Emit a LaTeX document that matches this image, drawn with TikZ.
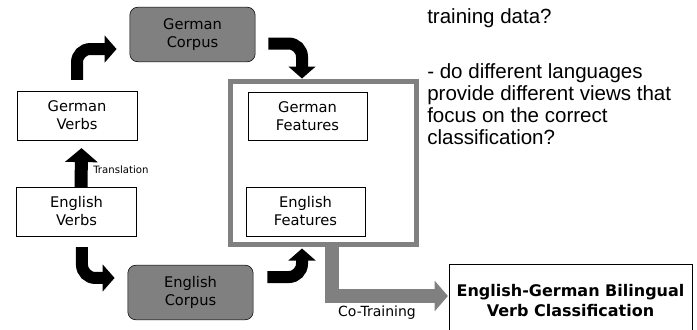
\documentclass[tikz,border=0pt]{standalone}
\usepackage{fontspec}
\setmainfont{Liberation Sans}
\newfontfamily\boxfont{DejaVu Sans}
\usepackage{xcolor}
\definecolor{Mid Gray}{HTML}{808080}
\colorlet{cGray}{Mid Gray}
\usepackage{tikz}
\usetikzlibrary{calc, arrows.meta, positioning}
\tikzset{
	x = .75pt,
	y = -.75pt,
	line width = .75pt,
	font = \boxfont\fontsize{11}{13.5}\selectfont,
	plainbox/.style={
		draw,
		fill=white,
		align=center,
		inner sep=0pt,
		minimum width=90pt,
		minimum height=36.5pt
	},
	corpus/.style={
		plainbox,
		fill=cGray,
		rounded corners=6pt,
		minimum width=94pt,
		minimum height=41pt
	},
	featframe/.style={
		draw=cGray,
		line width=3.75pt,
		inner sep=0pt,
		minimum width=139.5pt,
		minimum height=122.25pt
	},
	turnarrow/.style={
		line width=9pt,
		rounded corners=10pt,
		-{Triangle[width=20pt,length=9pt]}
	},
	uparrow/.style={
		line width=9.75pt,
		-{Triangle[width=24pt,length=10.5pt]}
	},
	cotrain/.style={
		draw=cGray,
		line width=10pt,
		-{Triangle[width=22.5pt,length=10pt]}
	},
	question/.style={
		anchor=base west,
		align=left,
		inner sep=0pt,
		font=\rmfamily\fontsize{15.4}{16.5}\selectfont
	}
}

\begin{document}
\begin{tikzpicture}
		\path[use as bounding box, fill=white] (0,0) rectangle (697,329);
		\clip (0,0) rectangle (697,329);

		\node[featframe] (frame) at (323,162.5) {};

		\node[plainbox] (gverbs) at (77,115.5) {German\\Verbs};
		\node[plainbox] (everbs) at (76.5,211.5) {English\\Verbs};
		\node[corpus] (gcorpus) at (192.5,34.5) {German\\Corpus};
		\node[corpus] (ecorpus) at (190.5,292.5) {English\\Corpus};
		\node[plainbox, minimum width=89pt, minimum height=36pt] (gfeat) at (307.5,116) {German\\Features};
		\node[plainbox, minimum width=89pt] (efeat) at (305.5,211.5) {English\\Features};
		\node[plainbox, minimum width=182pt, minimum height=55.5pt,
			font=\boxfont\bfseries\fontsize{12}{15}\selectfont] (result) at (570.5,301)
			{English-German Bilingual\\Verb Classification};

		% arrows round the loop
		\draw[turnarrow] ([yshift=8.25pt]gverbs.north) |- ([xshift=-9.75pt,yshift=-10.9pt]gcorpus.west);
		\draw[turnarrow] ([xshift=9.75pt,yshift=-6.75pt]gcorpus.east) -| ([xshift=-15.75pt]frame.north);
		\draw[turnarrow] ([xshift=4.1pt,yshift=-8.25pt]everbs.south) |- ([xshift=-9.75pt,yshift=10.9pt]ecorpus.west);
		\draw[turnarrow] ([xshift=10.5pt,yshift=11.6pt]ecorpus.east) -| ([xshift=-15.75pt,yshift=-1.5pt]frame.south);
		\draw[uparrow] ([xshift=3.4pt]everbs.north) -- ([xshift=3.4pt,yshift=-6pt]gverbs.south);
		\node[anchor=west, font=\boxfont\fontsize{7.6}{9}\selectfont, inner sep=0pt] (trans) at (93,170) {Translation};

		% co-training
		\draw[cotrain] ([xshift=6.75pt]frame.south) |- ([xshift=-.75pt,yshift=3.75pt]result.west);
		\node[font=\boxfont\fontsize{10.5}{12}\selectfont] (colabel) at (377,313) {Co-Training};

		% questions (base = last line)
		\node[question] (qdata) at (427,23) {training data?};
		\node[question] (qviews) at (427,144)
			{- do different languages\\provide different views that\\focus on the correct\\classification?};
	\end{tikzpicture}
\end{document}
